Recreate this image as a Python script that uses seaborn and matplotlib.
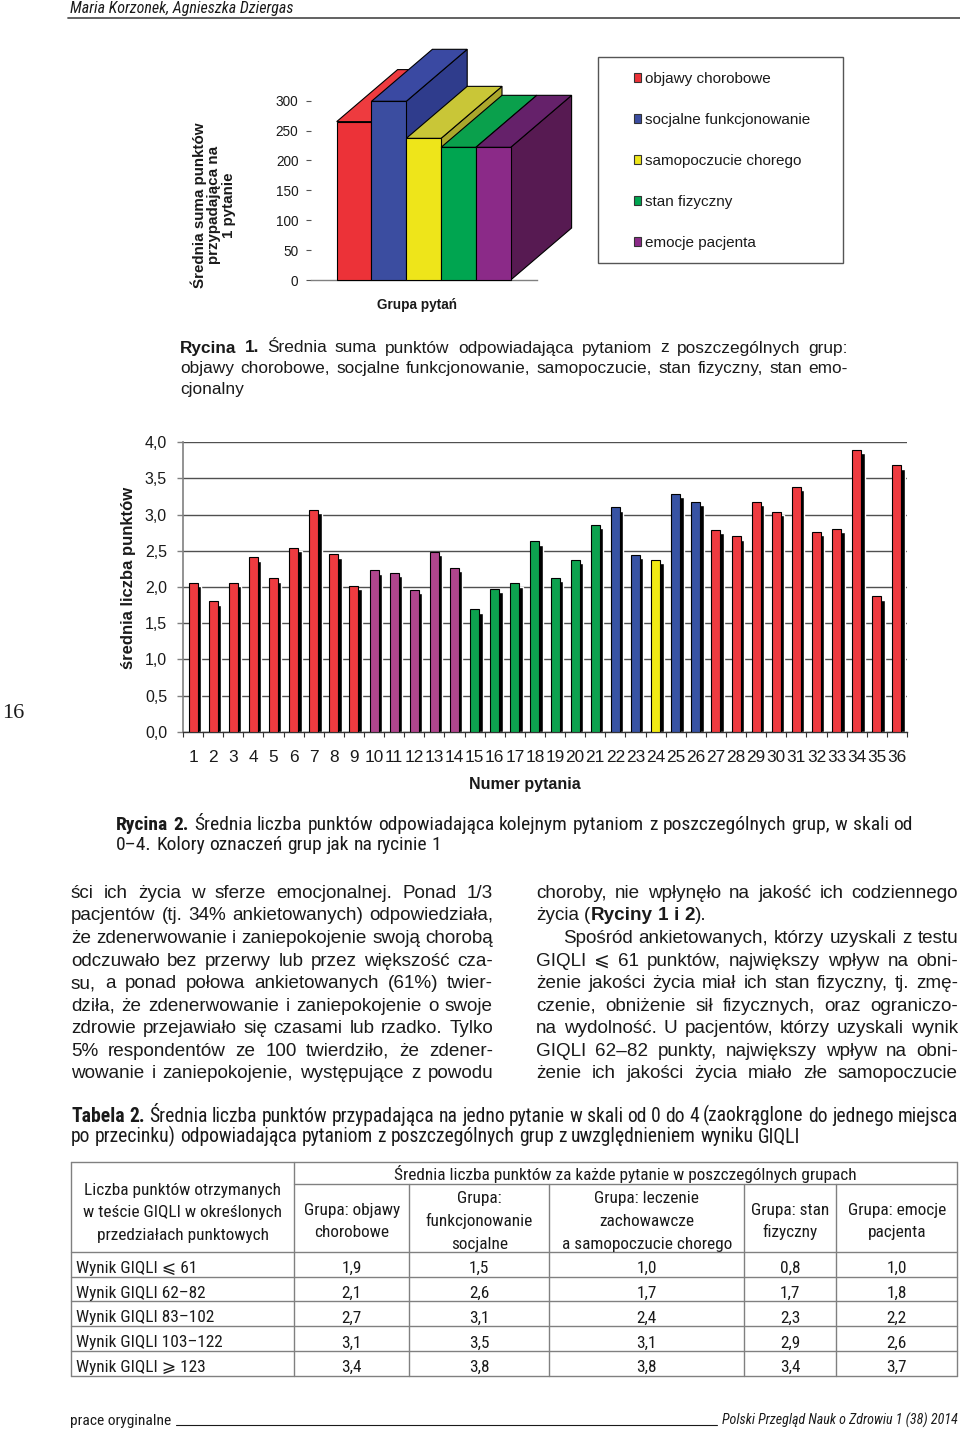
import numpy as np
import pandas as pd
import matplotlib
matplotlib.use("Agg")
import matplotlib.pyplot as plt
import seaborn as sns
from matplotlib import font_manager as fm
from matplotlib.patches import Polygon, Rectangle, Patch

# ---------------- data ----------------
fig1_groups = ["objawy chorobowe", "socjalne funkcjonowanie", "samopoczucie chorego",
               "stan fizyczny", "emocje pacjenta"]
fig1_values = [265, 299, 237, 222, 222]
fig1_yticks = [0, 50, 100, 150, 200, 250, 300]

fig2_questions = [str(n) for n in range(1, 37)]
fig2_values = [2.06, 1.80, 2.06, 2.41, 2.12, 2.54, 3.07, 2.45, 2.02,
               2.23, 2.20, 1.96, 2.49, 2.26,
               1.69, 1.97, 2.05, 2.63, 2.13, 2.37, 2.86,
               3.10, 2.44, 2.38, 3.29, 3.18,
               2.79, 2.70, 3.18, 3.04, 3.38, 2.76, 2.80, 3.90, 1.87, 3.68]
fig2_group_codes = ["O", "O", "O", "O", "O", "O", "O", "O", "O",
                    "E", "E", "E", "E", "E",
                    "S", "S", "S", "S", "S", "S", "S",
                    "F", "F", "P", "F", "F",
                    "O", "O", "O", "O", "O", "O", "O", "O", "O", "O"]
code_names = {"O": "objawy chorobowe", "F": "socjalne funkcjonowanie",
              "P": "samopoczucie chorego", "S": "stan fizyczny", "E": "emocje pacjenta"}
fig2_yticks = [0.0, 0.5, 1.0, 1.5, 2.0, 2.5, 3.0, 3.5, 4.0]
fig2_yticklabels = ["0,0", "0,5", "1,0", "1,5", "2,0", "2,5", "3,0", "3,5", "4,0"]

table_row_labels = ["Wynik GIQLI ⩽ 61", "Wynik GIQLI 62–82", "Wynik GIQLI 83–102",
                    "Wynik GIQLI 103–122", "Wynik GIQLI ⩾ 123"]
table_first_header = "Liczba punktów otrzymanych\nw teście GIQLI w określonych\nprzedziałach punktowych"
table_top_header = "Średnia liczba punktów za każde pytanie w poszczególnych grupach"
table_col_headers = ["Grupa: objawy\nchorobowe", "Grupa:\nfunkcjonowanie\nsocjalne",
                     "Grupa: leczenie\nzachowawcze\na samopoczucie chorego",
                     "Grupa: stan\nfizyczny", "Grupa: emocje\npacjenta"]
table_objawy = [1.9, 2.1, 2.7, 3.1, 3.4]
table_socjalne = [1.5, 2.6, 3.1, 3.5, 3.8]
table_samopoczucie = [1.0, 1.7, 2.4, 3.1, 3.8]
table_stan = [0.8, 1.7, 2.3, 2.9, 3.4]
table_emocje = [1.0, 1.8, 2.2, 2.6, 3.7]

# ---------------- fonts ----------------
W, H = 960, 1431
sns.set_theme(style="white")
entries = fm.fontManager.ttflist
avail = {f.name for f in entries}
SANS = "Liberation Sans" if "Liberation Sans" in avail else "DejaVu Sans"
SERIF = "Liberation Serif" if "Liberation Serif" in avail else "DejaVu Serif"


def pick_condensed():
    for nm in ["Liberation Sans Narrow", "Roboto Condensed", "Open Sans Condensed",
               "Noto Sans Condensed", "DejaVu Sans Condensed", "Noto Sans SemiCondensed",
               "Open Sans SemiCondensed", "Roboto SemiCondensed"]:
        if nm in avail:
            return nm, "normal"
    for fam in ["Roboto", "Noto Sans", "Open Sans", "DejaVu Sans", "Liberation Sans"]:
        for f in entries:
            st = str(f.stretch).lower()
            if f.name == fam and f.style == "normal" and ("condensed" in st or "narrow" in st):
                return fam, f.stretch
    return SANS, "normal"


COND_NAME, COND_STRETCH = pick_condensed()
plt.rcParams["font.family"] = [SANS, "DejaVu Sans"]
FS = dict(family=[SANS, "DejaVu Sans"])
FN = dict(family=[COND_NAME, "DejaVu Sans"], fontstretch=COND_STRETCH)
INK = "#1a1a1a"

fig1_front = {"objawy chorobowe": "#EC3238", "socjalne funkcjonowanie": "#3B4DA0",
              "samopoczucie chorego": "#EEE51A", "stan fizyczny": "#00A550",
              "emocje pacjenta": "#8B2A88"}
fig1_top = {"objawy chorobowe": "#EE3B3F", "socjalne funkcjonowanie": "#3A49A2",
            "samopoczucie chorego": "#C9C637", "stan fizyczny": "#0AA04C",
            "emocje pacjenta": "#65216A"}
fig1_side = {"objawy chorobowe": "#C22A2E", "socjalne funkcjonowanie": "#2F3C8C",
             "samopoczucie chorego": "#ABA72C", "stan fizyczny": "#058A43",
             "emocje pacjenta": "#571A52"}
fig2_palette = {"objawy chorobowe": "#EE3B40", "socjalne funkcjonowanie": "#3853A4",
                "samopoczucie chorego": "#F1EA14", "stan fizyczny": "#0DA24F",
                "emocje pacjenta": "#B0458D"}

fig = plt.figure(figsize=(W / 100, H / 100), dpi=100)
fig.patch.set_facecolor("white")
bg = fig.add_axes([0, 0, 1, 1], zorder=0)
bg.set_xlim(0, W)
bg.set_ylim(H, 0)
bg.axis("off")
renderer = fig.canvas.get_renderer()


def px_rect(x0, y0, x1, y1):
    return [x0 / W, 1 - y1 / H, (x1 - x0) / W, (y1 - y0) / H]


def text_width(s, **kw):
    t = bg.text(0, 0, s, **kw)
    w = t.get_window_extent(renderer=renderer).width
    t.remove()
    return w


def fit_size(s, target, fontkw, base=12.0, **kw):
    return base * target / text_width(s, fontsize=base, **fontkw, **kw)


def parse_token(tok):
    runs = []
    for part in tok.split("|"):
        if part.startswith("*"):
            runs.append((part[1:], "bold"))
        else:
            runs.append((part, "normal"))
    return runs


def draw_line(line, x0, x1, y, size, fontkw, justify=True, style="normal"):
    token_runs = [parse_token(t) for t in line.split()]
    for _ in range(8):
        kw = dict(fontsize=size, fontstyle=style, **fontkw)
        widths = [sum(text_width(r, fontweight=wt, **kw) for r, wt in runs) for runs in token_runs]
        space = text_width("n n", **kw) - 2 * text_width("n", **kw)
        if justify and len(token_runs) > 1:
            gap = (x1 - x0 - sum(widths)) / (len(token_runs) - 1)
            if gap < 0.55 * space:
                size *= 0.985
                continue
        else:
            gap = space
        break
    x = x0
    for runs, w in zip(token_runs, widths):
        xx = x
        for r, wt in runs:
            bg.text(xx, y, r, ha="left", va="baseline", fontweight=wt, color=INK, **kw)
            xx += text_width(r, fontweight=wt, **kw)
        x += w + gap


# ---------------- header / footer ----------------
hdr = "Maria Korzonek, Agnieszka Dziergas"
s_hdr = fit_size(hdr, 222, FN, fontstyle="italic")
bg.text(70, 13.5, hdr, fontsize=s_hdr, fontstyle="italic", ha="left", va="baseline", color=INK, **FN)
bg.plot([68, 960], [17.5, 17.5], color="#555555", lw=1.3)
ft1 = "prace oryginalne"
bg.text(70, 1425, ft1, fontsize=fit_size(ft1, 101, FN), ha="left", va="baseline", color=INK, **FN)
bg.plot([176, 717], [1424.5, 1424.5], color=INK, lw=0.8)
ft2 = "Polski Przegląd Nauk o Zdrowiu 1 (38) 2014"
bg.text(958, 1425, ft2, fontsize=fit_size(ft2, 235, FN, fontstyle="italic"), fontstyle="italic",
        ha="right", va="baseline", color=INK, **FN)
bg.text(13, 718, "16", family=SERIF, fontsize=16, ha="center", va="baseline", color=INK)

# ---------------- figure 1 (pseudo 3D bars) ----------------
ax1 = fig.add_axes(px_rect(310.7, 100.7, 536.7, 280.0), zorder=2)
ax1.set_facecolor("none")
df1 = pd.DataFrame({"grupa": fig1_groups, "suma": fig1_values})
sns.barplot(data=df1, x="grupa", y="suma", hue="grupa", order=fig1_groups, hue_order=fig1_groups,
            palette=fig1_front, saturation=1, width=1.0, edgecolor="black", linewidth=0.8,
            legend=False, ax=ax1)
ax1.set_xlim(-1.247, 5.247)
ax1.set_ylim(0, 300)
depth_x, depth_y = 1.75, 87.0
for p in list(ax1.patches):
    x, w, h = p.get_x(), p.get_width(), p.get_height()
    idx = int(round(x + w / 2))
    g = fig1_groups[idx]
    side = Polygon([(x + w, 0), (x + w, h), (x + w + depth_x, h + depth_y), (x + w + depth_x, depth_y)],
                   closed=True, facecolor=fig1_side[g], edgecolor="black", lw=0.8,
                   clip_on=False, zorder=10 + 3 * idx)
    top = Polygon([(x, h), (x + w, h), (x + w + depth_x, h + depth_y), (x + depth_x, h + depth_y)],
                  closed=True, facecolor=fig1_top[g], edgecolor="black", lw=0.8,
                  clip_on=False, zorder=11 + 3 * idx)
    ax1.add_patch(side)
    ax1.add_patch(top)
    p.set_zorder(12 + 3 * idx)
    p.set_clip_on(False)
ax1.set_xticks([])
ax1.set_yticks(fig1_yticks)
ax1.set_yticklabels([str(v) for v in fig1_yticks], fontsize=9.8, color=INK)
ax1.tick_params(axis="y", left=True, length=3.3, width=0.8, color="#555555", pad=5.5)
for s in ["left", "top", "right"]:
    ax1.spines[s].set_visible(False)
ax1.spines["bottom"].set_color("#808080")
ax1.spines["bottom"].set_linewidth(1.0)
ax1.set_ylabel("Średnia suma punktów\nprzypadająca na\n1 pytanie", fontsize=10.9,
               fontweight="bold", linespacing=1.05, multialignment="center", color=INK)
ax1.yaxis.label.set_rotation_mode("default")
ax1.yaxis.label.set_va("center")
ax1.yaxis.label.set_ha("center")
ax1.yaxis.set_label_coords((213 - 310.7) / 226.0, (280 - 205) / 179.3)
ax1.set_xlabel("Grupa pytań", fontsize=9.8, fontweight="bold", color=INK)
ax1.xaxis.label.set_va("center")
ax1.xaxis.set_label_coords((417 - 310.7) / 226.0, (280 - 305) / 179.3)

handles = [Patch(facecolor=fig1_front[g], edgecolor="#333333", linewidth=0.8) for g in fig1_groups]
leg = ax1.legend(handles, fig1_groups, loc="upper left",
                 bbox_to_anchor=(634 / W, 1 - 72.1 / H), bbox_transform=fig.transFigure,
                 frameon=False, fontsize=11, handlelength=0.45, handleheight=0.55,
                 handletextpad=0.26, labelspacing=1.76, borderpad=0, borderaxespad=0)
for t in leg.get_texts():
    t.set_color(INK)
bg.add_patch(Rectangle((598.3, 56.7), 244.4, 206.6, fill=False, edgecolor="#555555", lw=1.0))

cap1 = ["*Rycina *1. Średnia suma punktów odpowiadająca pytaniom z poszczególnych grup:",
        "objawy chorobowe, socjalne funkcjonowanie, samopoczucie, stan fizyczny, stan emo-",
        "cjonalny"]
for i, line in enumerate(cap1):
    draw_line(line, 180, 848, 352.5 + 20.6 * i, 12.4, FS, justify=(i < 2))

# ---------------- figure 2 ----------------
ax2 = fig.add_axes(px_rect(183, 442.3, 907, 731.7), zorder=2)
ax2.set_facecolor("none")
df2 = pd.DataFrame({"pytanie": fig2_questions, "srednia": fig2_values,
                    "grupa": [code_names[c] for c in fig2_group_codes]})
ax2.bar(np.arange(len(fig2_values)) + 0.17, np.array(fig2_values) - 0.045, width=0.45,
        color="black", zorder=2)
sns.barplot(data=df2, x="pytanie", y="srednia", hue="grupa", order=fig2_questions,
            palette=fig2_palette, saturation=1, dodge=False, width=0.45, edgecolor="black",
            linewidth=0.8, legend=False, ax=ax2, zorder=3)
ax2.set_xlim(-0.5, 35.5)
ax2.set_ylim(0, 4)
ax2.set_yticks(fig2_yticks)
ax2.set_yticklabels(fig2_yticklabels, fontsize=11.5, color=INK)
ax2.set_xticks(np.arange(len(fig2_questions)))
ax2.set_xticklabels(fig2_questions, fontsize=12.4, color=INK)
ax2.set_xticks(np.arange(-0.5, 36, 1), minor=True)
ax2.tick_params(axis="x", which="major", bottom=True, length=0, pad=13.0)
ax2.tick_params(axis="x", which="minor", bottom=True, length=3.5, width=0.8, color="#333333",
                direction="out")
ax2.tick_params(axis="y", left=True, length=4.3, width=1.0, color="#808080", pad=7.2)
ax2.set_axisbelow(True)
ax2.yaxis.grid(True, color="#505050", lw=1.0)
ax2.xaxis.grid(False)
for s in ["top", "right"]:
    ax2.spines[s].set_visible(False)
ax2.spines["left"].set_color("#808080")
ax2.spines["left"].set_linewidth(1.2)
ax2.spines["bottom"].set_color("#333333")
ax2.spines["bottom"].set_linewidth(1.0)
ax2.set_ylabel("średnia liczba punktów", fontsize=12, fontweight="bold", color=INK)
ax2.yaxis.label.set_rotation_mode("default")
ax2.yaxis.label.set_va("center")
ax2.yaxis.set_label_coords((128 - 183) / 724.0, (731.7 - 578) / 289.4)
ax2.set_xlabel("Numer pytania", fontsize=11.5, fontweight="bold", color=INK)
ax2.xaxis.label.set_va("center")
ax2.xaxis.set_label_coords((525 - 183) / 724.0, (731.7 - 785) / 289.4)

cap2 = ["*Rycina *2. Średnia liczba punktów odpowiadająca kolejnym pytaniom z poszczególnych grup, w skali od",
        "0–4. Kolory oznaczeń grup jak na rycinie 1"]
s_cap2 = fit_size(cap2[1], 324, FN)
for i, line in enumerate(cap2):
    draw_line(line, 116, 913, 829.5 + 20.5 * i, s_cap2, FN, justify=(i < 1))

# ---------------- body text ----------------
left_col = [
    "ści ich życia w sferze emocjonalnej. Ponad 1/3",
    "pacjentów (tj. 34% ankietowanych) odpowiedziała,",
    "że zdenerwowanie i zaniepokojenie swoją chorobą",
    "odczuwało bez przerwy lub przez większość cza-",
    "su, a ponad połowa ankietowanych (61%) twier-",
    "dziła, że zdenerwowanie i zaniepokojenie o swoje",
    "zdrowie przejawiało się czasami lub rzadko. Tylko",
    "5% respondentów ze 100 twierdziło, że zdener-",
    "wowanie i zaniepokojenie, występujące z powodu",
]
right_col = [
    ("choroby, nie wpłynęło na jakość ich codziennego", True, 0),
    ("życia (|*Ryciny *1 *i *2|).", False, 0),
    ("Spośród ankietowanych, którzy uzyskali z testu", True, 27),
    ("GIQLI ⩽ 61 punktów, największy wpływ na obni-", True, 0),
    ("żenie jakości życia miał ich stan fizyczny, tj. zmę-", True, 0),
    ("czenie, obniżenie sił fizycznych, oraz ograniczo-", True, 0),
    ("na wydolność. U pacjentów, którzy uzyskali wynik", True, 0),
    ("GIQLI 62–82 punkty, największy wpływ na obni-", True, 0),
    ("żenie ich jakości życia miało złe samopoczucie", True, 0),
]
BODY = 13.6
for i, line in enumerate(left_col):
    draw_line(line, 71, 493, 897.7 + 22.6 * i, BODY, FS, justify=True)
for i, (line, just, indent) in enumerate(right_col):
    draw_line(line, 536 + indent, 958, 897.7 + 22.6 * i, BODY, FS, justify=just)

# ---------------- table ----------------
cap3 = ["*Tabela *2. Średnia liczba punktów przypadająca na jedno pytanie w skali od 0 do 4 (zaokrąglone do jednego miejsca",
        "po przecinku) odpowiadająca pytaniom z poszczególnych grup z uwzględnieniem wyniku GIQLI"]
s_cap3 = fit_size(cap3[1], 732, FN)
for i, line in enumerate(cap3):
    draw_line(line, 71, 958, 1121.5 + 21 * i, s_cap3, FN, justify=(i < 1))

col_x = [71, 294.3, 409, 549.3, 744.3, 836, 957.3]
t_top, t_sub, t_head = 1161.7, 1184.3, 1251.7
t_bottom = 1376.0
n_rows = len(table_row_labels)
row_h = (t_bottom - t_head) / n_rows
LC = "#808080"
bg.plot([col_x[0], col_x[-1]], [t_top, t_top], color=LC, lw=1.0)
bg.plot([col_x[1], col_x[-1]], [t_sub, t_sub], color=LC, lw=1.0)
for k in range(n_rows + 1):
    yy = t_head + k * row_h
    bg.plot([col_x[0], col_x[-1]], [yy, yy], color=LC, lw=1.0)
for j, xx in enumerate(col_x):
    y_start = t_top if j in (0, 1, len(col_x) - 1) else t_sub
    bg.plot([xx, xx], [y_start, t_bottom], color=LC, lw=1.0)

TFS = fit_size("Wynik GIQLI 103–122", 146.3, FN)
LS = 22.5
first_lines = table_first_header.split("\n")
c0 = 1217.5 - (len(first_lines) - 1) / 2 * LS
for k, ln in enumerate(first_lines):
    bg.text((col_x[0] + col_x[1]) / 2, c0 + k * LS, ln, fontsize=TFS,
            ha="center", va="baseline", color=INK, **FN)
bg.text((col_x[1] + col_x[-1]) / 2, 1180, table_top_header, fontsize=TFS,
        ha="center", va="baseline", color=INK, **FN)
for j, hdr_txt in enumerate(table_col_headers):
    lines = hdr_txt.split("\n")
    c0 = 1226 - (len(lines) - 1) / 2 * LS
    for k, ln in enumerate(lines):
        bg.text((col_x[j + 1] + col_x[j + 2]) / 2, c0 + k * LS, ln, fontsize=TFS,
                ha="center", va="baseline", color=INK, **FN)

table_columns = [table_objawy, table_socjalne, table_samopoczucie, table_stan, table_emocje]
for r, lab in enumerate(table_row_labels):
    yb = t_head + (r + 1) * row_h - 3.8
    bg.text(col_x[0] + 5, yb, lab, fontsize=TFS, ha="left", va="baseline", color=INK, **FN)
    for j, col in enumerate(table_columns):
        bg.text((col_x[j + 1] + col_x[j + 2]) / 2, yb, f"{col[r]:.1f}".replace(".", ","),
                fontsize=TFS, ha="center", va="baseline", color=INK, **FN)

fig.savefig("out.png", dpi=100)
